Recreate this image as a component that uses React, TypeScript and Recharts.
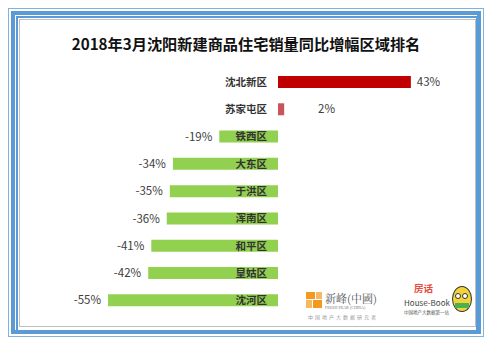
import React from 'react';
import { BarChart, Bar, XAxis, YAxis, Cell, LabelList } from 'recharts';

const categories = ['沈北新区', '苏家屯区', '铁西区', '大东区', '于洪区', '浑南区', '和平区', '皇姑区', '沈河区'];
const values = [43, 2, -19, -34, -35, -36, -41, -42, -55];
const title = '2018年3月沈阳新建商品住宅销量同比增幅区域排名';

const data = categories.map((name, i) => ({ name, value: values[i] }));

const FONT = '"Noto Sans CJK SC", "Noto Sans", sans-serif';

const colorFor = (i: number) => (i === 0 ? '#C00000' : values[i] >= 0 ? '#C9545A' : '#92D050');

const ValueLabel = (props: any) => {
  const { x, y, width, height, index } = props;
  const v = values[index];
  const l = Math.min(x, x + width);
  const r = Math.max(x, x + width);
  const cy = y + height / 2;
  const zero = v >= 0 ? l : r;
  const tx = v >= 0 ? Math.max(r + 6, zero + 40) : l - 7;
  return (
    <text x={tx} y={cy} dy="0.36em" textAnchor={v >= 0 ? 'start' : 'end'} fontSize={11.5} fill="#404040" fontFamily={FONT}>
      {`${v}%`}
    </text>
  );
};

const NameLabel = (props: any) => {
  const { x, y, width, height, index } = props;
  const v = values[index];
  const l = Math.min(x, x + width);
  const r = Math.max(x, x + width);
  const zero = v >= 0 ? l : r;
  const cy = y + height / 2;
  return (
    <text x={zero - 11} y={cy} dy="0.36em" textAnchor="end" fontSize={10.5} fontWeight="bold" fill="#333" fontFamily={FONT}>
      {categories[index]}
    </text>
  );
};

const small = (extra: any) => ({ position: 'absolute' as const, whiteSpace: 'nowrap' as const, lineHeight: 1, ...extra });

export default function App() {
  return (
    <div style={{ position: 'absolute', left: 0, top: 0, width: 491, height: 345, background: '#fff', overflow: 'hidden' }}>
      {/* frame */}
      <div style={{ position: 'absolute', left: 8, top: 8, width: 476, height: 329, border: '1px solid #7FB2E0', boxSizing: 'border-box' }} />
      <div style={{ position: 'absolute', left: 11, top: 11, width: 470, height: 323, border: '4px solid #5B9BD5', boxSizing: 'border-box' }} />
      <div style={{ position: 'absolute', left: 16, top: 16, width: 462, height: 317, border: '2px solid #5B9BD5', boxSizing: 'border-box' }} />
      <div style={{ position: 'absolute', left: 19, top: 19, width: 457, height: 308, border: '1px solid #BFBFBF', boxSizing: 'border-box' }} />
      {/* title */}
      <div style={{ position: 'absolute', left: 0, top: 32, width: 492, textAlign: 'center', fontFamily: FONT, fontWeight: 'bold', fontSize: 15.2, color: '#111', lineHeight: '22px' }}>
        {title}
      </div>
      <div style={{ position: 'absolute', left: 0, top: 0 }}>
        <BarChart width={491} height={345} data={data} layout="vertical" margin={{ top: 68, right: 58.5, bottom: 31.4, left: 92.6 }} barSize={12}>
          <XAxis type="number" domain={[-60, 50]} hide />
          <YAxis type="category" dataKey="name" hide />
          <Bar dataKey="value" isAnimationActive={false}>
            {data.map((d, i) => (
              <Cell key={d.name} fill={colorFor(i)} />
            ))}
            <LabelList dataKey="name" content={NameLabel} />
            <LabelList dataKey="value" content={ValueLabel} />
          </Bar>
        </BarChart>
      </div>
      {/* logos */}
      <div style={{ position: 'absolute', left: 306, top: 292, width: 9, height: 7, background: '#F39A1E' }} />
      <div style={{ position: 'absolute', left: 316, top: 292, width: 6, height: 7, background: '#F7B866' }} />
      <div style={{ position: 'absolute', left: 306, top: 300, width: 6, height: 8, background: '#F7B866' }} />
      <div style={{ position: 'absolute', left: 313, top: 300, width: 9, height: 8, background: '#F39A1E' }} />
      <div style={small({ left: 325, top: 293, fontFamily: '"Noto Serif CJK SC", "Liberation Serif", serif', fontSize: 11, color: '#555' })}>新峰(中國)</div>
      <div style={small({ left: 325, top: 306, fontFamily: 'serif', fontSize: 4, color: '#777' })}>FRESH PEAK (CHINA)</div>
      <div style={small({ left: 308, top: 314, fontFamily: FONT, fontSize: 5, color: '#999', letterSpacing: 2 })}>中国地产大数据研究者</div>
      <div style={small({ left: 414, top: 284, fontFamily: FONT, fontSize: 9.5, color: '#E84A3C', fontWeight: 'bold' })}>房话</div>
      <div style={small({ left: 404, top: 299, fontFamily: FONT, fontSize: 8, color: '#444' })}>House-Book</div>
      <div style={small({ left: 404, top: 310, fontFamily: FONT, fontSize: 4.5, color: '#555' })}>中国地产大数据第一站</div>
      <div style={{ position: 'absolute', left: 452, top: 286, width: 20, height: 26, borderRadius: '50%', background: '#F2D43A', border: '1px solid #333', boxSizing: 'border-box' }} />
      <div style={{ position: 'absolute', left: 455, top: 293, width: 6, height: 6, borderRadius: '50%', background: '#fff', border: '1px solid #333', boxSizing: 'border-box' }} />
      <div style={{ position: 'absolute', left: 462, top: 293, width: 6, height: 6, borderRadius: '50%', background: '#fff', border: '1px solid #333', boxSizing: 'border-box' }} />
      <div style={{ position: 'absolute', left: 455, top: 303, width: 14, height: 5, background: '#4CAF50' }} />
    </div>
  );
}
